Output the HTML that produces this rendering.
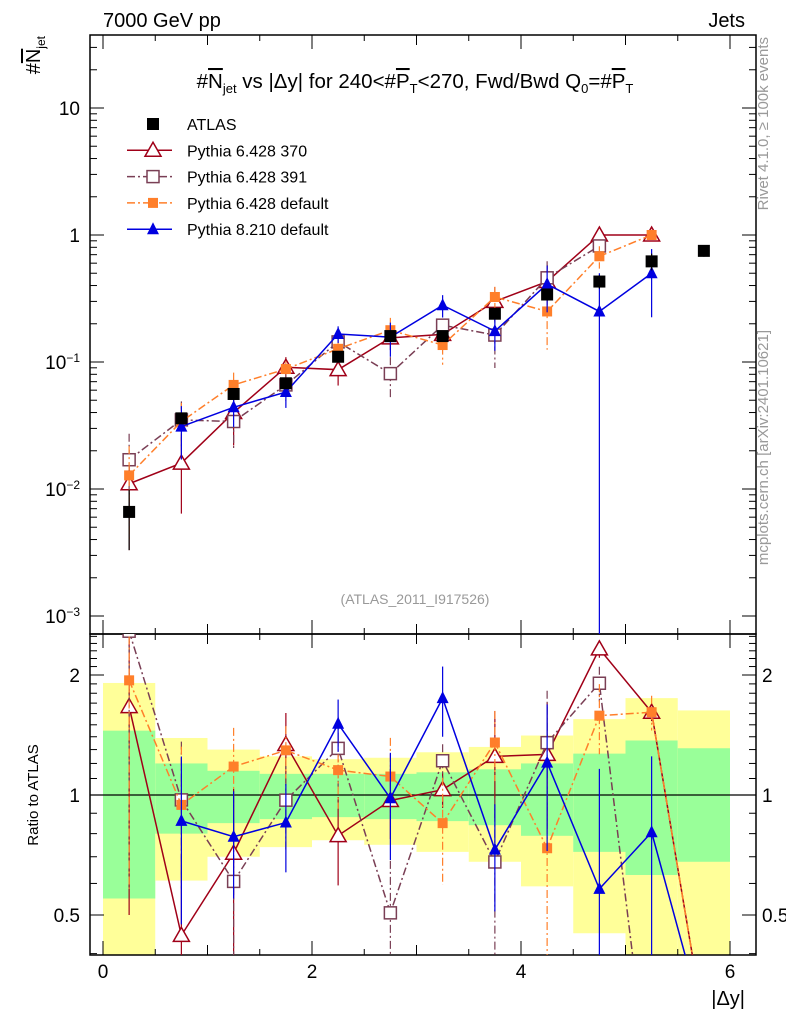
<!DOCTYPE html>
<html><head><meta charset="utf-8"><style>
html,body{margin:0;background:#fff;font-family:"Liberation Sans",sans-serif;overflow:hidden;width:786px;height:1024px}
svg{display:block}
svg text{font-family:"Liberation Sans","DejaVu Sans",sans-serif}
</style></head><body>
<svg id="c" width="786" height="1024" xmlns="http://www.w3.org/2000/svg"></svg>
<script>
const xCenters=[0.25,0.75,1.25,1.75,2.25,2.75,3.25,3.75,4.25,4.75,5.25,5.75];
const atlasVals=[0.0066,0.036,0.056,0.068,0.11,0.16,0.16,0.24,0.34,0.43,0.62,0.75];
const atlasRelErr=[0.5,0.08,0.07,0.07,0.07,0.07,0.08,0.08,0.1,0.12,0.15,0.1];
const bandStatUp=[1.45,1.2,1.15,1.13,1.13,1.13,1.14,1.16,1.2,1.27,1.37,1.31];
const bandStatDn=[0.55,0.8,0.85,0.87,0.88,0.87,0.86,0.84,0.79,0.72,0.63,0.68];
const bandTotUp=[1.91,1.39,1.30,1.25,1.23,1.24,1.28,1.32,1.41,1.55,1.75,1.63];
const bandTotDn=[0.01,0.61,0.70,0.74,0.77,0.75,0.72,0.68,0.59,0.45,0.01,0.01];
const p370=[0.011,0.016,0.04,0.091,0.087,0.155,0.165,0.30,0.43,1.0,1.0,0.2];
const p370Err=[0.7,0.6,0.45,0.2,0.25,0.2,0.1,0.3,0.35,0.05,0.05,0];
const p391=[0.017,0.035,0.034,0.066,0.144,0.081,0.195,0.163,0.46,0.82,0.1,0.1];
const p391Err=[0.6,0.4,0.4,0.25,0.2,0.35,0.1,0.45,0.35,0.1,0,0];
const p6def=[0.0128,0.034,0.066,0.088,0.127,0.178,0.136,0.325,0.25,0.68,1.0,0.2];
const p6defErr=[0.7,0.4,0.25,0.15,0.2,0.25,0.3,0.2,0.5,0.2,0.1,0];
const p8def=[null,0.031,0.044,0.058,0.166,0.157,0.28,0.175,0.41,0.25,0.5,0.2];
const p8defErr=[0,0.45,0.3,0.25,0.15,0.3,0.2,0.3,0.4,1.0,0.55,0];
const xTicks=[0,2,4,6];
const mainTickVals=[10,1,0.1,0.01,0.001];
const mainTickLabels=["10","1","10<tspan dy='-7' font-size='12'>−1</tspan>","10<tspan dy='-7' font-size='12'>−2</tspan>","10<tspan dy='-7' font-size='12'>−3</tspan>"];
const ratioTicks=[2,1,0.5];

const svg=document.getElementById('c');
const L=90,R=756,T=35,MB=634,RB=955;
const X=v=>103+104.5*v;
const Y=v=>235-127*Math.log10(v);
const RY=v=>795-120*Math.log2(v);
function el(tag,attrs,parent){const e=document.createElementNS('http://www.w3.org/2000/svg',tag);for(const k in attrs)e.setAttribute(k,attrs[k]);(parent||svg).appendChild(e);return e;}
const defs=el('defs',{});
const cp1=el('clipPath',{id:'cm'},defs);el('rect',{x:L,y:T,width:R-L,height:MB-T},cp1);
const cp2=el('clipPath',{id:'cr'},defs);el('rect',{x:L,y:MB,width:R-L,height:RB-MB},cp2);

const gb=el('g',{'clip-path':'url(#cr)'});


xCenters.forEach((c,i)=>{
  const r1=el('rect',{x:X(c-0.25),width:104.5*0.5,y:RY(bandTotUp[i]),height:Math.min(RB,RY(bandTotDn[i]))-RY(bandTotUp[i]),fill:'#ffff99'},gb);
  
  
  const r2=el('rect',{x:X(c-0.25),width:104.5*0.5,y:RY(bandStatUp[i]),height:RY(bandStatDn[i])-RY(bandStatUp[i]),fill:'#99ff99'},gb);
  
  
});
el('line',{x1:L,x2:R,y1:RY(1),y2:RY(1),stroke:'#000','stroke-width':1.2});

el('rect',{x:L,y:T,width:R-L,height:MB-T,fill:'none',stroke:'#000','stroke-width':1.5});
el('rect',{x:L,y:MB,width:R-L,height:RB-MB,fill:'none',stroke:'#000','stroke-width':1.5});
for(let v=0;v<=6.01;v+=0.5){
  const big=Math.abs(v-Math.round(v))<0.01?(Math.round(v)%2==0?14:10):6;
  [[T,1],[MB,1],[MB,-1],[RB,-1]].forEach(([y0,d])=>el('line',{x1:X(v),x2:X(v),y1:y0,y2:y0+d*big,stroke:'#000'}));
}
xTicks.forEach(v=>{const t=el('text',{x:X(v),y:978,'text-anchor':'middle','font-size':19});t.textContent=v;
});
for(let d=-3;d<=1;d++)for(let m=1;m<10;m++){const v=m*Math.pow(10,d);const y=Y(v);if(y<T)continue;const len=m==1?14:7;
 el('line',{x1:L,x2:L+len,y1:y,y2:y,stroke:'#000'});el('line',{x1:R,x2:R-len,y1:y,y2:y,stroke:'#000'});}
mainTickVals.forEach((v,i)=>{const t=el('text',{x:80,y:Y(v)+7,'text-anchor':'end','font-size':19});t.innerHTML=mainTickLabels[i];
});
[0.4,0.5,0.6,0.7,0.8,0.9,1,1.1,1.2,1.3,1.4,1.5,1.6,1.7,1.8,1.9,2,2.1,2.2,2.3,2.4,2.5].forEach(v=>{const y=RY(v);if(y<MB||y>RB)return;
 const len=(v==0.5||v==1||v==2)?14:7;el('line',{x1:L,x2:L+len,y1:y,y2:y,stroke:'#000'});el('line',{x1:R,x2:R-len,y1:y,y2:y,stroke:'#000'});});
ratioTicks.forEach(v=>{const t=el('text',{x:80,y:RY(v)+7,'text-anchor':'end','font-size':19});t.textContent=v;

const t2=el('text',{x:762,y:RY(v)+7,'font-size':19});t2.textContent=v;
});

const series=[
 {name:'pythia-6428-370',vals:p370,err:p370Err,col:'#a00018',dash:'',mk:'tri-open',mainN:11},
 {name:'pythia-6428-391',vals:p391,err:p391Err,col:'#7a3f55',dash:'8,3,2,3',mk:'sq-open',mainN:10},
 {name:'pythia-6428-default',vals:p6def,err:p6defErr,col:'#ff7f2a',dash:'8,3,2,3',mk:'sq',mainN:11},
 {name:'pythia-8210-default',vals:p8def,err:p8defErr,col:'#0000e0',dash:'',mk:'tri',mainN:11}];
function marker(g,x,y,mk,col){
 if(mk=='tri-open')el('path',{d:`M${x},${y-8}L${x+8},${y+6}L${x-8},${y+6}Z`,fill:'#fff',stroke:col,'stroke-width':1.5},g);
 else if(mk=='tri')el('path',{d:`M${x},${y-7}L${x+6},${y+5}L${x-6},${y+5}Z`,fill:col},g);
 else if(mk=='sq-open')el('rect',{x:x-6,y:y-6,width:12,height:12,fill:'#fff',stroke:col,'stroke-width':1.5},g);
 else if(mk=='sq')el('rect',{x:x-5,y:y-5,width:10,height:10,fill:col},g);
 else el('rect',{x:x-6,y:y-6,width:12,height:12,fill:col},g);
}
series.forEach(s=>{
 const gm=el('g',{'clip-path':'url(#cm)'});
 
 
 const gr=el('g',{'clip-path':'url(#cr)'});
 
 
 let pm=[],pr=[];
 xCenters.forEach((c,i)=>{const v=s.vals[i];if(v==null)return;
  if(i<s.mainN)pm.push(X(c)+','+Y(v));pr.push(X(c)+','+RY(v/atlasVals[i]));});
 el('polyline',{points:pm.join(' '),fill:'none',stroke:s.col,'stroke-width':1.5,'stroke-dasharray':s.dash},gm);
 el('polyline',{points:pr.join(' '),fill:'none',stroke:s.col,'stroke-width':1.5,'stroke-dasharray':s.dash},gr);
 xCenters.forEach((c,i)=>{const v=s.vals[i];if(v==null||i>=s.mainN)return;const e=s.err[i];
  const lo=Math.max(v*(1-e),1e-6),hi=v*(1+e);const r=atlasVals[i];
  if(e>0){el('line',{x1:X(c),x2:X(c),y1:Y(hi),y2:Y(lo),stroke:s.col,'stroke-width':1.2,'stroke-dasharray':s.dash},gm);
   el('line',{x1:X(c),x2:X(c),y1:RY(hi/r),y2:RY(lo/r),stroke:s.col,'stroke-width':1.2,'stroke-dasharray':s.dash},gr);}
  marker(gm,X(c),Y(v),s.mk,s.col);marker(gr,X(c),RY(v/r),s.mk,s.col);});
});
const ga=el('g',{'clip-path':'url(#cm)'});


xCenters.forEach((c,i)=>{const v=atlasVals[i],e=atlasRelErr[i];
 el('line',{x1:X(c),x2:X(c),y1:Y(v*(1+e)),y2:Y(v*(1-e)),stroke:'#000','stroke-width':1.2},ga);
 marker(ga,X(c),Y(v),'black','#000');});

const leg=[['ATLAS','black','#000',''],['Pythia 6.428 370','tri-open','#a00018',''],['Pythia 6.428 391','sq-open','#7a3f55','8,3,2,3'],['Pythia 6.428 default','sq','#ff7f2a','8,3,2,3'],['Pythia 8.210 default','tri','#0000e0','']];
leg.forEach((l,i)=>{const y=124+26.3*i;const g=el('g',{});
 
 
 if(i>0)el('line',{x1:127,x2:172,y1:y,y2:y,stroke:l[2],'stroke-width':1.5,'stroke-dasharray':l[3]},g);
 marker(g,153,y,l[1],l[2]);
 const t=el('text',{x:187,y:y+6,'font-size':16},g);t.textContent=l[0];});

function txt(x,y,s,attrs,name){const t=el('text',Object.assign({x:x,y:y},attrs));t.innerHTML=s;return t;}
txt(103,27,'7000 GeV pp',{'font-size':20},'energy-label');
txt(745,27,'Jets',{'font-size':20,'text-anchor':'end'},'process-label');
txt(415,88,'#<tspan text-decoration="overline">N</tspan><tspan font-size="13" dy="5">jet</tspan><tspan dy="-5"> vs |Δy| for 240&lt;#</tspan><tspan text-decoration="overline">P</tspan><tspan font-size="13" dy="5">T</tspan><tspan dy="-5">&lt;270, Fwd/Bwd Q</tspan><tspan font-size="13" dy="5">0</tspan><tspan dy="-5">=#</tspan><tspan text-decoration="overline">P</tspan><tspan font-size="13" dy="5">T</tspan>',{'font-size':20.5,'text-anchor':'middle'},'plot-title');
txt(415,604,'(ATLAS_2011_I917526)',{'font-size':14,'text-anchor':'middle',fill:'#999'},'analysis-id');
txt(0,0,'#<tspan text-decoration="overline">N</tspan><tspan font-size="12" dy="5">jet</tspan>',{'font-size':20,'text-anchor':'end',transform:'translate(40,36) rotate(-90)'},'y-axis-title');
txt(0,0,'Ratio to ATLAS',{'font-size':15,'text-anchor':'middle',transform:'translate(38,795) rotate(-90)'},'ratio-axis-title');
txt(745,1005,'|Δy|',{'font-size':20,'text-anchor':'end'},'x-axis-title');
txt(0,0,'Rivet 4.1.0, ≥ 100k events',{'font-size':15,fill:'#999','text-anchor':'end',transform:'translate(768,37) rotate(-90)'},'rivet-label');
txt(0,0,'mcplots.cern.ch [arXiv:2401.10621]',{'font-size':15,fill:'#999','text-anchor':'end',transform:'translate(768,330) rotate(-90)'},'mcplots-label');
</script>
</body></html>
